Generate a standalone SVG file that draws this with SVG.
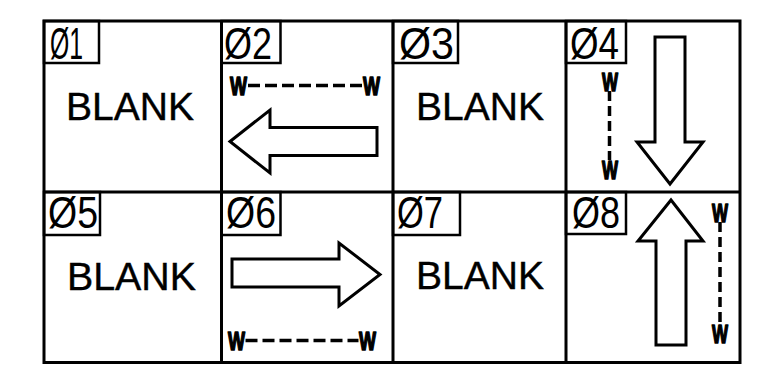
<svg xmlns="http://www.w3.org/2000/svg" width="762" height="368" viewBox="0 0 762 368">
<style>
.grid{fill:none;stroke:#000;stroke-width:3}
.lbox{fill:none;stroke:#000;stroke-width:2.5}
.arrow{fill:#fff;stroke:#000;stroke-width:3;stroke-linejoin:miter}
.num{font-family:"Liberation Sans",Arial,sans-serif;font-size:44px;fill:#000}
.blank{font-family:"Liberation Sans",Arial,sans-serif;font-size:38px;fill:#000;stroke:#000;stroke-width:0.4}
.w{font-family:"Liberation Sans",Arial,sans-serif;font-size:26px;font-weight:bold;fill:#000;stroke:#000;stroke-width:1.6;stroke-linejoin:round}
.dimh{stroke:#000;stroke-width:3.5;stroke-dasharray:12 5;fill:none}
.dimv{stroke:#000;stroke-width:3.5;stroke-dasharray:10 5;fill:none}
</style>
<rect x="0" y="0" width="762" height="368" fill="#fff"/>
<g id="grid">
<rect class="grid" x="44" y="21" width="696" height="341.5"/>
<line class="grid" x1="221.5" y1="21" x2="221.5" y2="362.5"/>
<line class="grid" x1="393" y1="21" x2="393" y2="362.5"/>
<line class="grid" x1="566" y1="21" x2="566" y2="362.5"/>
<line class="grid" x1="44" y1="192" x2="740" y2="192"/>
</g>
<g id="cell01">
<rect class="lbox" x="44" y="21" width="55" height="42"/>
<text class="num" x="50" y="59" textLength="33" lengthAdjust="spacingAndGlyphs">Ø1</text>
<text class="blank" x="66" y="120" textLength="128" lengthAdjust="spacingAndGlyphs">BLANK</text>
</g>
<g id="cell02">
<rect class="lbox" x="221.5" y="21" width="59" height="42"/>
<text class="num" x="224" y="59" textLength="48" lengthAdjust="spacingAndGlyphs">Ø2</text>
<text class="w" x="230" y="95" textLength="17" lengthAdjust="spacingAndGlyphs">W</text>
<line class="dimh" x1="248" y1="85.5" x2="362.5" y2="85.5"/>
<text class="w" x="363" y="95" textLength="17" lengthAdjust="spacingAndGlyphs">W</text>
<polygon class="arrow" points="230,141.5 270,110 270,127.5 377,127.5 377,155.5 270,155.5 270,173"/>
</g>
<g id="cell03">
<rect class="lbox" x="393" y="21" width="65" height="42"/>
<text class="num" x="399" y="59" textLength="55" lengthAdjust="spacingAndGlyphs">Ø3</text>
<text class="blank" x="416" y="120" textLength="128" lengthAdjust="spacingAndGlyphs">BLANK</text>
</g>
<g id="cell04">
<rect class="lbox" x="566" y="21" width="60" height="42"/>
<text class="num" x="570" y="59" textLength="49" lengthAdjust="spacingAndGlyphs">Ø4</text>
<text class="w" x="602" y="91" textLength="16" lengthAdjust="spacingAndGlyphs">W</text>
<line class="dimv" x1="609.5" y1="91" x2="609.5" y2="160"/>
<text class="w" x="602" y="179" textLength="16" lengthAdjust="spacingAndGlyphs">W</text>
<polygon class="arrow" points="655,37 685,37 685,142 703,142 670,184 637,142 655,142"/>
</g>
<g id="cell05">
<rect class="lbox" x="44" y="192" width="56" height="43"/>
<text class="num" x="48" y="228" textLength="50" lengthAdjust="spacingAndGlyphs">Ø5</text>
<text class="blank" x="67" y="290" textLength="129" lengthAdjust="spacingAndGlyphs">BLANK</text>
</g>
<g id="cell06">
<rect class="lbox" x="221.5" y="192" width="59" height="43"/>
<text class="num" x="226" y="228" textLength="50" lengthAdjust="spacingAndGlyphs">Ø6</text>
<polygon class="arrow" points="232,259 339,259 339,243 380,274.5 339,306 339,287 232,287"/>
<text class="w" x="228" y="350" textLength="17" lengthAdjust="spacingAndGlyphs">W</text>
<line class="dimh" x1="245.5" y1="340.5" x2="358.5" y2="340.5"/>
<text class="w" x="359" y="350" textLength="17" lengthAdjust="spacingAndGlyphs">W</text>
</g>
<g id="cell07">
<rect class="lbox" x="393" y="192" width="67" height="43"/>
<text class="num" x="397" y="228" textLength="46" lengthAdjust="spacingAndGlyphs">Ø7</text>
<text class="blank" x="416" y="289" textLength="128" lengthAdjust="spacingAndGlyphs">BLANK</text>
</g>
<g id="cell08">
<rect class="lbox" x="566" y="192" width="60" height="42"/>
<text class="num" x="572" y="228" textLength="48" lengthAdjust="spacingAndGlyphs">Ø8</text>
<polygon class="arrow" points="671,200 703,241 686,241 686,345 656,345 656,241 638,241"/>
<text class="w" x="712" y="222" textLength="16" lengthAdjust="spacingAndGlyphs">W</text>
<line class="dimv" x1="720" y1="222" x2="720" y2="323"/>
<text class="w" x="712" y="343" textLength="16" lengthAdjust="spacingAndGlyphs">W</text>
</g>
</svg>
